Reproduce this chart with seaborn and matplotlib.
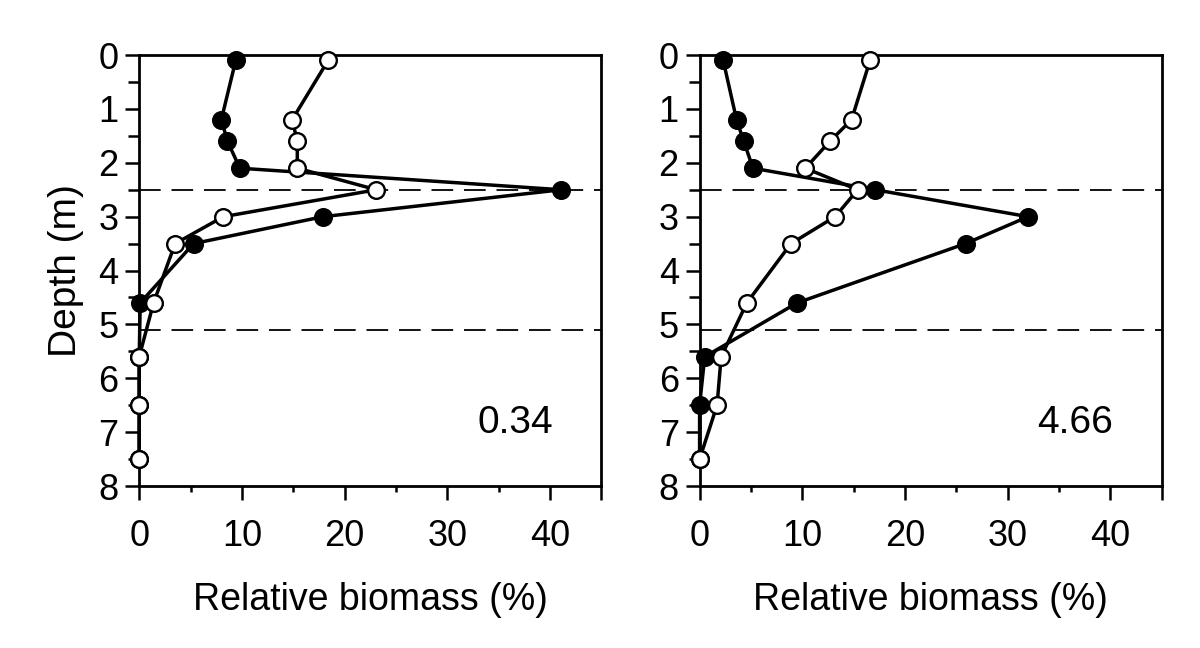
#!/usr/bin/env python3

import matplotlib
matplotlib.use('Agg')
import matplotlib.pyplot as plt
import seaborn as sns
import pandas as pd

# profondeurs d'échantillonnage (m)
depths = [0.1, 1.2, 1.6, 2.1, 2.5, 3.0, 3.5, 4.6, 5.6, 6.5, 7.5]

# panneau gauche
left_filled = [9.4, 8.0, 8.6, 9.8, 41.1, 17.9, 5.3, 0.1, 0.0, 0.0, 0.0]
left_open = [18.4, 14.9, 15.4, 15.4, 23.1, 8.2, 3.5, 1.4, 0.0, 0.0, 0.0]
# panneau droit
right_filled = [2.3, 3.6, 4.3, 5.2, 17.1, 32.0, 25.9, 9.5, 0.5, 0.0, 0.0]
right_open = [16.6, 14.8, 12.7, 10.3, 15.4, 13.2, 8.9, 4.6, 2.1, 1.7, 0.0]

labels = ['0.34', '4.66']
dashed_depths = [2.5, 5.1]
xticks = [0, 10, 20, 30, 40, 45]
xticklabels = ['0', '10', '20', '30', '40', '']

sns.set_style('ticks')
plt.rcParams['font.family'] = ['Liberation Sans', 'DejaVu Sans']
plt.rcParams['text.color'] = 'black'
plt.rcParams['axes.labelcolor'] = 'black'
plt.rcParams['xtick.color'] = 'black'
plt.rcParams['ytick.color'] = 'black'

fig = plt.figure(figsize=(12, 6.48), dpi=100)
axes = [fig.add_axes([0.116, 0.25, 0.385, 0.665]),
        fig.add_axes([0.583, 0.25, 0.385, 0.665])]

panels = [(left_filled, left_open), (right_filled, right_open)]

for ax, (filled, opened), lab in zip(axes, panels, labels):
    for y in dashed_depths:
        ax.axhline(y, color='black', lw=1.3, ls=(0, (12, 6)), zorder=1)
    sns.lineplot(x=filled, y=depths, sort=False, estimator=None, ax=ax,
                 color='black', lw=2.5, marker='o', markersize=12,
                 markerfacecolor='black', markeredgecolor='black',
                 markeredgewidth=1.7, clip_on=False, zorder=3)
    sns.lineplot(x=opened, y=depths, sort=False, estimator=None, ax=ax,
                 color='black', lw=2.5, marker='o', markersize=12,
                 markerfacecolor='white', markeredgecolor='black',
                 markeredgewidth=1.7, clip_on=False, zorder=4)
    ax.set_xlim(0, 45)
    ax.set_ylim(8, 0)
    ax.set_xticks(xticks)
    ax.set_xticklabels(xticklabels)
    ax.set_xticks([5, 15, 25, 35], minor=True)
    ax.set_yticks(range(9))
    ax.set_yticks([0.5 + i for i in range(8)], minor=True)
    ax.tick_params(axis='both', which='major', length=10, width=1.8,
                   labelsize=26, direction='out', color='black',
                   labelcolor='black')
    ax.tick_params(axis='y', which='minor', length=8, width=1.8,
                   direction='out')
    ax.tick_params(axis='x', which='minor', length=4, width=1.8,
                   direction='out')
    ax.tick_params(axis='x', pad=14)
    ax.tick_params(axis='y', pad=5)
    for sp in ax.spines.values():
        sp.set_visible(True)
        sp.set_linewidth(2.0)
        sp.set_color('black')
    ax.set_xlabel('Relative biomass (%)', fontsize=27, labelpad=20,
                  color='black')
    ax.set_ylabel('')
    ax.text(36.6, 6.83, lab, fontsize=28, ha='center', va='center',
            color='black')

axes[0].set_ylabel('Depth (m)', fontsize=28, labelpad=10, color='black')

fig.savefig('out.png', dpi=100)
plt.close(fig)
